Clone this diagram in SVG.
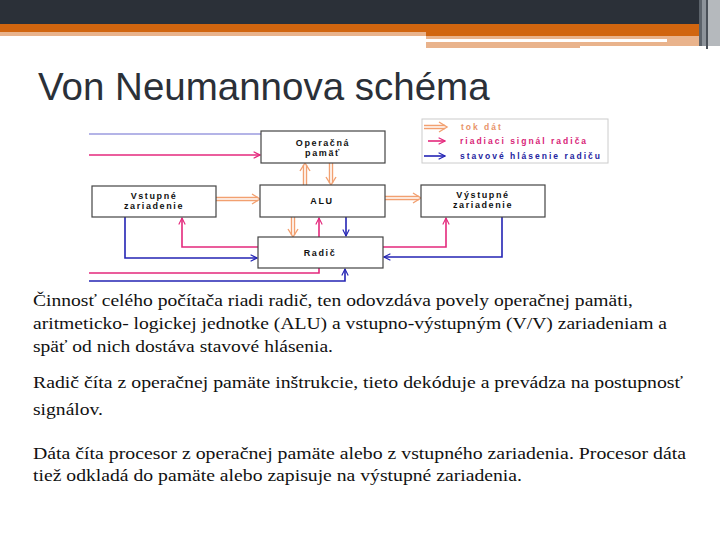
<svg xmlns="http://www.w3.org/2000/svg" width="720" height="540" viewBox="0 0 720 540">
<defs>
<style>
.box{fill:#fff;stroke:#444;stroke-width:1.2}
.bt{font-family:"Liberation Sans",Arial,sans-serif;font-weight:bold;font-size:9px;letter-spacing:1.6px;fill:#111;text-anchor:middle}
.lt{font-family:"Liberation Sans",Arial,sans-serif;font-weight:bold;font-size:8.5px;letter-spacing:2px}
.body{font-family:"Liberation Serif","Times New Roman",serif;font-size:16.5px;fill:#111}
.pk{fill:none;stroke:#e4287c;stroke-width:1.6}
.bl{fill:none;stroke:#2424b4;stroke-width:1.6}
.or{fill:none;stroke:#f2a070;stroke-width:1.4}
</style>
<marker id="mp" viewBox="0 0 10 10" refX="9" refY="5" markerWidth="8" markerHeight="8" markerUnits="userSpaceOnUse" orient="auto"><path d="M1,1 L9,5 L1,9" fill="none" stroke="#e4287c" stroke-width="1.4"/></marker>
<marker id="mb" viewBox="0 0 10 10" refX="9" refY="5" markerWidth="8" markerHeight="8" markerUnits="userSpaceOnUse" orient="auto"><path d="M1,1 L9,5 L1,9" fill="none" stroke="#2424b4" stroke-width="1.4"/></marker>
</defs>
<rect width="720" height="540" fill="#fff"/>
<!-- header -->
<rect x="0" y="0" width="720" height="24" fill="#2b3038"/>
<rect x="0" y="24" width="426" height="8" fill="#d1650f"/>
<rect x="0" y="32" width="426" height="4" fill="#e9b38c"/>
<rect x="426" y="24" width="274" height="12" fill="#d1650f"/>
<rect x="426" y="36" width="274" height="3" fill="#e9b38c"/>
<rect x="426" y="42" width="154" height="6" fill="#e9b38c"/>
<rect x="580" y="42" width="87" height="4" fill="#e9b38c"/>
<rect x="667" y="36" width="33" height="10" fill="#e9b38c"/>
<rect x="699" y="0" width="3" height="46" fill="#5c636b"/>
<rect x="702" y="0" width="4" height="46" fill="#8d939a"/>
<rect x="706" y="0" width="2" height="49" fill="#4a5058"/>
<rect x="708" y="0" width="12" height="46" fill="#b5b9bd"/>
<text x="38" y="100" font-family="'Liberation Sans',Arial,sans-serif" font-size="38.5" fill="#2b3038">Von Neumannova schéma</text>
<!-- legend -->
<g id="legend">
<rect x="422" y="119" width="186" height="44" fill="#fff" stroke="#ccc" stroke-width="1"/>
<g class="or"><path d="M424,125.5 H445 M424,128.5 H445"/><path d="M439,122 L447,127 L439,132"/></g>
<path class="pk" d="M428,141 H445" marker-end="url(#mp)"/>
<path class="bl" d="M424,156 H445" marker-end="url(#mb)"/>
<text class="lt" x="461" y="130" fill="#e8946a">tok dát</text>
<text class="lt" x="460" y="144" fill="#d81e78">riadiaci signál radiča</text>
<text class="lt" x="460" y="159" fill="#2424a0">stavové hlásenie radiču</text>
</g>
<!-- connectors -->
<g id="connectors">
<!-- orange data -->
<g class="or">
<path d="M216,197.5 H258 M216,200.5 H258"/><path d="M252,194 L260,199 L252,204"/>
<path d="M385,196.5 H419 M385,199.5 H419"/><path d="M413,193 L421,198 L413,203"/>
<path d="M303.5,185 V165 M306.5,185 V165"/><path d="M300,171 L305,163 L310,171"/>
<path d="M329.5,163 V183 M332.5,163 V183"/><path d="M326,177 L331,185 L336,177"/>
<path d="M291.5,217 V235 M294.5,217 V235"/><path d="M288,229 L293,237 L298,229"/>
</g>
<!-- pink control -->
<path class="pk" d="M258,247 H182 V218" marker-end="url(#mp)"/>
<path class="pk" d="M383,247 H446 V218" marker-end="url(#mp)"/>
<path class="pk" d="M319,237 V218" marker-end="url(#mp)"/>
<path class="pk" d="M319,268 V273 H89"/>
<path class="pk" d="M89,155 H260" marker-end="url(#mp)"/>
<!-- blue status -->
<path d="M261,134 H89" fill="none" stroke="#6a6ad0" stroke-width="1.2"/>
<path class="bl" d="M89,281 H345 V269" marker-end="url(#mb)"/>
<path class="bl" d="M125,217 V258 H257" marker-end="url(#mb)"/>
<path class="bl" d="M502,217 V257 H384" marker-end="url(#mb)"/>
<path class="bl" d="M346,217 V236" marker-end="url(#mb)"/>
</g>
<!-- nodes -->
<g id="op-pamat"><rect class="box" x="261" y="131" width="124" height="32"/><text class="bt" x="323" y="146">Operačná</text><text class="bt" x="323" y="156">pamäť</text></g>
<g id="alu"><rect class="box" x="260" y="185" width="125" height="32"/><text class="bt" x="322" y="204">ALU</text></g>
<g id="radic"><rect class="box" x="258" y="237" width="125" height="31"/><text class="bt" x="320" y="256">Radič</text></g>
<g id="vstupne"><rect class="box" x="92" y="186" width="124" height="31"/><text class="bt" x="154" y="199">Vstupné</text><text class="bt" x="154" y="209">zariadenie</text></g>
<g id="vystupne"><rect class="box" x="421" y="185" width="124" height="32"/><text class="bt" x="483" y="198">Výstupné</text><text class="bt" x="483" y="208">zariadenie</text></g>
<!-- body text -->
<g class="body">
<text x="33" y="306" textLength="600" lengthAdjust="spacingAndGlyphs">Činnosť celého počítača riadi radič, ten odovzdáva povely operačnej pamäti,</text>
<text x="33" y="329" textLength="634" lengthAdjust="spacingAndGlyphs">aritmeticko- logickej jednotke (ALU) a vstupno-výstupným (V/V) zariadeniam a</text>
<text x="33" y="352" textLength="300" lengthAdjust="spacingAndGlyphs">späť od nich dostáva stavové hlásenia.</text>
<text x="33" y="388" textLength="650" lengthAdjust="spacingAndGlyphs">Radič číta z operačnej pamäte inštrukcie, tieto dekóduje a prevádza na postupnosť</text>
<text x="33" y="415" textLength="70" lengthAdjust="spacingAndGlyphs">signálov.</text>
<text x="33" y="459" textLength="653" lengthAdjust="spacingAndGlyphs">Dáta číta procesor z operačnej pamäte alebo z vstupného zariadenia. Procesor dáta</text>
<text x="33" y="481" textLength="489" lengthAdjust="spacingAndGlyphs">tiež odkladá do pamäte alebo zapisuje na výstupné zariadenia.</text>
</g>
</svg>
